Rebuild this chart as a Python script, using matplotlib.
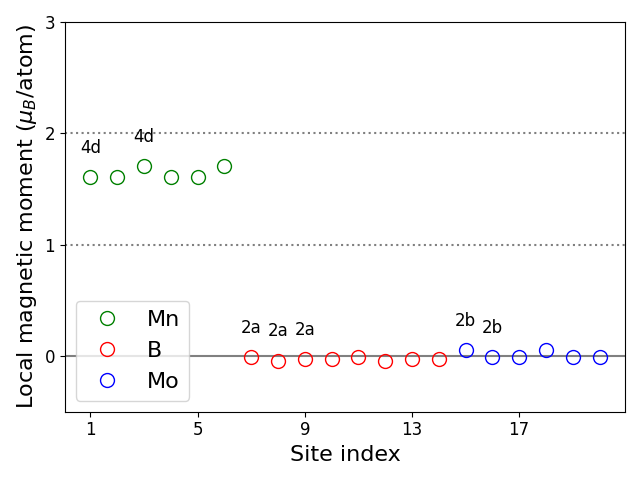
import matplotlib
matplotlib.use("Agg")
import matplotlib.pyplot as plt

mn_sites = [1, 2, 3, 4, 5, 6]
mn_vals = [1.61, 1.61, 1.71, 1.61, 1.61, 1.71]
b_sites = [7, 8, 9, 10, 11, 12, 13, 14]
b_vals = [-0.01, -0.04, -0.03, -0.03, -0.01, -0.04, -0.03, -0.03]
mo_sites = [15, 16, 17, 18, 19, 20]
mo_vals = [0.05, -0.01, -0.01, 0.05, -0.01, -0.01]

labels = {1: "4d", 3: "4d", 7: "2a", 8: "2a", 9: "2a", 15: "2b", 16: "2b"}
xticks = [1, 5, 9, 13, 17]

fig, ax = plt.subplots(figsize=(6.4, 4.8), dpi=100)
ax.axhline(0, color="gray", lw=1.5)
ax.axhline(1, color="gray", ls=":", lw=1.5)
ax.axhline(2, color="gray", ls=":", lw=1.5)

ax.plot(mn_sites, mn_vals, "o", mfc="none", mec="green", ms=10, label="Mn")
ax.plot(b_sites, b_vals, "o", mfc="none", mec="red", ms=10, label="B")
ax.plot(mo_sites, mo_vals, "o", mfc="none", mec="blue", ms=10, label="Mo")

allx = mn_sites + b_sites + mo_sites
ally = mn_vals + b_vals + mo_vals
for x, y in zip(allx, ally):
    if x in labels:
        ax.text(x, y + 0.18, labels[x], ha="center", va="bottom", fontsize=12)

ax.set_ylim(-0.5, 3)
ax.set_yticks([0, 1, 2, 3])
ax.set_xticks(xticks)
ax.tick_params(labelsize=12)
ax.set_xlabel("Site index", fontsize=16)
ax.set_ylabel(r"Local magnetic moment ($\mu_B$/atom)", fontsize=16)
ax.legend(loc="lower left", fontsize=16)
fig.tight_layout()
fig.savefig("out.png")
